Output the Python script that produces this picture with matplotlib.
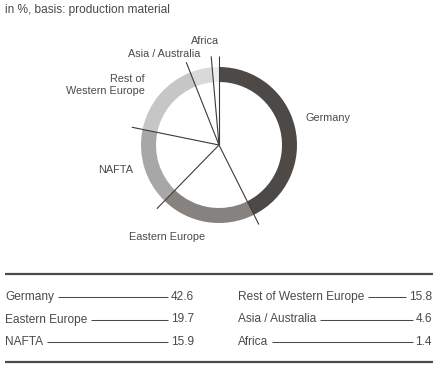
import numpy as np
import matplotlib.pyplot as plt

plt.rcParams['font.family'] = ['Liberation Sans', 'DejaVu Sans']

################################################################################
# data
################################################################################
regions = ['Germany', 'Eastern Europe', 'NAFTA', 'Rest of Western Europe',
           'Asia/Australia', 'Africa']
shares = [42.6, 19.7, 15.9, 15.8, 4.6, 1.4]
ring_colors = ['#4d4946', '#85827f', '#a7a7a7', '#c6c6c6', '#d9d9d9', '#ececec']

# labels around the ring
ring_labels = ['Germany', 'Eastern Europe', 'NAFTA', 'Rest of\nWestern Europe',
               'Asia / Australia', 'Africa']

# table: left column then right column
table_left = ['Germany', 'Eastern Europe', 'NAFTA']
table_left_vals = ['42.6', '19.7', '15.9']
table_right = ['Rest of Western Europe', 'Asia / Australia', 'Africa']
table_right_vals = ['15.8', '4.6', '1.4']

################################################################################
# figure in pixel coordinates
################################################################################
W, H = 442, 367
fig = plt.figure(figsize=(W / 100, H / 100), dpi=100)
ax = fig.add_axes([0, 0, 1, 1])

def Y(y):
    return H - y   # pixel-from-top to data y

txt_col = '#4a4a4a'
line_col = '#3d3a38'

ax.text(5, Y(10), 'in %, basis: production material', fontsize=8.6,
        color=txt_col, va='center', ha='left')

# donut
cx, cy = 219, Y(145)
ax.pie(shares, colors=ring_colors, startangle=90, counterclock=False,
       radius=78, center=(cx, cy),
       wedgeprops=dict(width=15, linewidth=0))

# boundary lines from the centre
cum = np.concatenate([[0], np.cumsum(shares)[:-1]]) / np.sum(shares)
for c in cum:
    th = np.deg2rad(90 - 360 * c)
    ax.plot([cx, cx + 89 * np.cos(th)], [cy, cy + 89 * np.sin(th)],
            color=line_col, lw=0.8, zorder=5, solid_capstyle='butt')

label_pos = [(305, 118, 'left'), (129, 236.5, 'left'), (98, 170, 'left'),
             (145, 85, 'right'), (128, 54, 'left'), (191, 41, 'left')]
for lab, (x, y, ha) in zip(ring_labels, label_pos):
    ax.text(x, Y(y), lab, fontsize=7.8, color=txt_col, ha=ha, va='center',
            multialignment=ha, linespacing=1.25)

# table
for yy in (274, 362):
    ax.plot([5, 433], [Y(yy), Y(yy)], color='#4d4946', lw=1.6,
            solid_capstyle='butt')

ax.set_xlim(0, W)
ax.set_ylim(0, H)
ax.set_aspect('auto')
ax.axis('off')

baselines = [300, 322.5, 345]
rows = []
for lab, val, yb in zip(table_left, table_left_vals, baselines):
    rows.append((lab, val, 5, 194, yb))
for lab, val, yb in zip(table_right, table_right_vals, baselines):
    rows.append((lab, val, 238, 432, yb))

texts = []
for lab, val, x0, x1, yb in rows:
    t = ax.text(x0, Y(yb), lab, fontsize=8.6, color=txt_col, ha='left',
                va='baseline')
    v = ax.text(x1, Y(yb), val, fontsize=8.6, color=txt_col, ha='right',
                va='baseline')
    texts.append((t, v, yb))

fig.canvas.draw()
# axes fill the figure with limits 0..W, so display pixels == data units
for t, v, yb in texts:
    bt = t.get_window_extent()
    bv = v.get_window_extent()
    ax.plot([bt.x1 + 4, bv.x0 - 3], [Y(yb - 3)] * 2, color='#4d4946',
            lw=0.75, solid_capstyle='butt')

ax.set_xlim(0, W)
ax.set_ylim(0, H)
fig.savefig('out.png', dpi=100)
